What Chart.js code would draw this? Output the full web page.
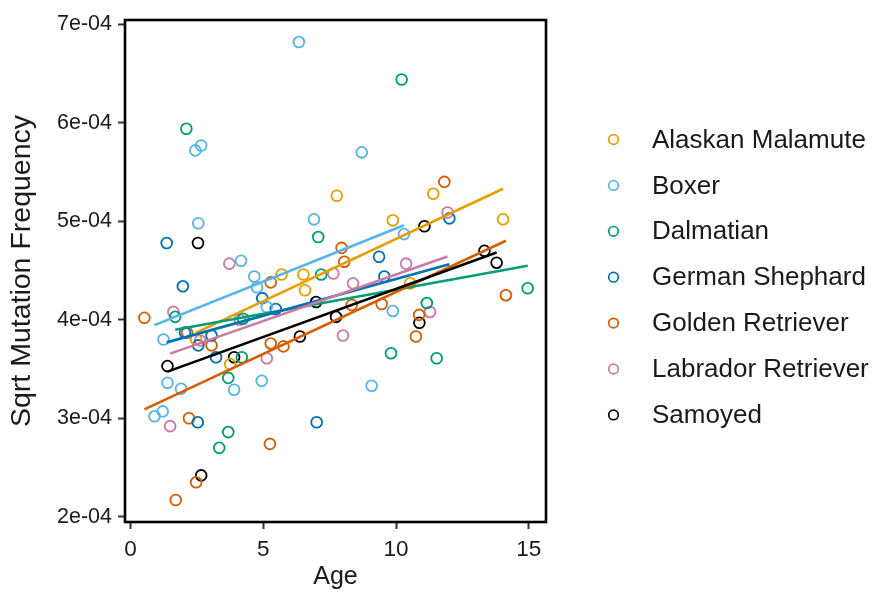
<!DOCTYPE html>
<html>
<head>
<meta charset="utf-8">
<script src="https://cdn.jsdelivr.net/npm/chart.js@4.4.1/dist/chart.umd.min.js"></script>
<style>
  html, body { margin: 0; padding: 0; background: #fff; }
  #ChartWrap { width: 878px; height: 592px; }
</style>
</head>
<body>
<div id="ChartWrap"><canvas id="MutationChart"></canvas></div>
<script>
const breeds = [
  "Alaskan Malamute",
  "Boxer",
  "Dalmatian",
  "German Shephard",
  "Golden Retriever",
  "Labrador Retriever",
  "Samoyed",
];
const breedColors = ["#E69F00", "#56B4E9", "#009E73", "#0072B2", "#D55E00", "#CC79A7", "#000000"];

// ages (years) and sqrt mutation frequency per breed
const malamuteAge = [7.77, 11.40, 9.88, 14.03, 5.69, 6.51, 6.57, 10.53, 2.47, 3.75];
const malamuteFreq = [5.26e-4, 5.28e-4, 5.01e-4, 5.02e-4, 4.46e-4, 4.46e-4, 4.30e-4, 4.37e-4, 3.80e-4, 3.55e-4];

const boxerAge = [6.34, 2.66, 2.44, 8.71, 2.55, 6.91, 10.30, 4.16, 4.66, 4.76, 5.13, 1.24, 9.88, 9.08, 1.39, 1.90, 3.90, 4.94, 0.90, 1.21];
const boxerFreq = [6.82e-4, 5.77e-4, 5.72e-4, 5.70e-4, 4.98e-4, 5.02e-4, 4.87e-4, 4.60e-4, 4.44e-4, 4.33e-4, 4.13e-4, 3.80e-4, 4.09e-4, 3.33e-4, 3.36e-4, 3.30e-4, 3.29e-4, 3.38e-4, 3.02e-4, 3.07e-4];

const dalmatianAge = [2.10, 10.21, 7.07, 7.18, 1.68, 4.24, 11.16, 14.96, 9.81, 11.53, 4.19, 3.68, 3.68, 3.34];
const dalmatianFreq = [5.94e-4, 6.44e-4, 4.84e-4, 4.46e-4, 4.03e-4, 4.01e-4, 4.17e-4, 4.32e-4, 3.66e-4, 3.61e-4, 3.62e-4, 3.41e-4, 2.86e-4, 2.70e-4];

const shepherdAge = [1.36, 1.97, 2.05, 2.55, 3.05, 3.22, 2.53, 4.96, 5.47, 9.36, 9.56, 12.01, 7.01];
const shepherdFreq = [4.78e-4, 4.34e-4, 3.87e-4, 3.74e-4, 3.84e-4, 3.62e-4, 2.96e-4, 4.22e-4, 4.11e-4, 4.64e-4, 4.44e-4, 5.03e-4, 2.96e-4];

const goldenAge = [0.52, 2.13, 3.05, 5.28, 5.28, 5.76, 7.95, 8.05, 8.33, 9.46, 10.87, 10.75, 11.82, 14.14, 2.20, 5.25, 2.47, 1.70];
const goldenFreq = [4.02e-4, 3.87e-4, 3.74e-4, 4.38e-4, 3.76e-4, 3.73e-4, 4.73e-4, 4.59e-4, 4.15e-4, 4.16e-4, 4.05e-4, 3.83e-4, 5.40e-4, 4.25e-4, 3.00e-4, 2.74e-4, 2.35e-4, 2.17e-4];

const labradorAge = [3.72, 1.61, 4.12, 5.13, 7.64, 8.38, 10.38, 11.94, 11.28, 8.00, 1.49, 2.62];
const labradorFreq = [4.57e-4, 4.08e-4, 4.00e-4, 3.61e-4, 4.47e-4, 4.37e-4, 4.57e-4, 5.09e-4, 4.08e-4, 3.84e-4, 2.92e-4, 3.79e-4];

const samoyedAge = [2.54, 1.39, 3.90, 2.66, 6.38, 6.99, 7.74, 10.88, 11.07, 13.33, 13.79];
const samoyedFreq = [4.78e-4, 3.53e-4, 3.62e-4, 2.42e-4, 3.83e-4, 4.18e-4, 4.03e-4, 3.97e-4, 4.95e-4, 4.70e-4, 4.58e-4];

const ageTicks = [0, 5, 10, 15];
const freqTicks = [2e-4, 3e-4, 4e-4, 5e-4, 6e-4, 7e-4];

const breedAges = [malamuteAge, boxerAge, dalmatianAge, shepherdAge, goldenAge, labradorAge, samoyedAge];
const breedFreqs = [malamuteFreq, boxerFreq, dalmatianFreq, shepherdFreq, goldenFreq, labradorFreq, samoyedFreq];

const fontFamily = "'Liberation Sans', Arial, sans-serif";
const textColor = "#1a1a1a";

function toPoints(ages, freqs) {
  return ages.map((age, index) => ({ x: age, y: freqs[index] }));
}

// least squares line across the breed's age range
function fitLine(ages, freqs) {
  const n = ages.length;
  const meanX = ages.reduce((sum, v) => sum + v, 0) / n;
  const meanY = freqs.reduce((sum, v) => sum + v, 0) / n;
  let sxy = 0;
  let sxx = 0;
  ages.forEach((age, index) => {
    sxy += (age - meanX) * (freqs[index] - meanY);
    sxx += (age - meanX) * (age - meanX);
  });
  const slope = sxy / sxx;
  const minX = Math.min(...ages);
  const maxX = Math.max(...ages);
  return [
    { x: minX, y: meanY + slope * (minX - meanX) },
    { x: maxX, y: meanY + slope * (maxX - meanX) },
  ];
}

const pointSets = breeds.map((breed, index) => ({
  label: breed,
  data: toPoints(breedAges[index], breedFreqs[index]),
  borderColor: breedColors[index],
  backgroundColor: "rgba(0,0,0,0)",
  pointRadius: 5.4,
  pointBorderWidth: 1.8,
  pointHoverRadius: 5.4,
  order: 2,
}));

const lineSets = breeds.map((breed, index) => ({
  label: breed + " fit",
  data: fitLine(breedAges[index], breedFreqs[index]),
  borderColor: breedColors[index],
  backgroundColor: breedColors[index],
  borderWidth: 2.6,
  showLine: true,
  pointRadius: 0,
  pointHoverRadius: 0,
  order: 1 - index / 10,
}));

const frameBox = {
  id: "frameBox",
  afterDraw(chart) {
    const { ctx, chartArea } = chart;
    ctx.save();
    ctx.strokeStyle = "#000";
    ctx.lineWidth = 2.6;
    ctx.strokeRect(chartArea.left, chartArea.top, chartArea.right - chartArea.left, chartArea.bottom - chartArea.top);
    ctx.restore();
  },
};

const sideLegend = {
  id: "sideLegend",
  afterDraw(chart) {
    const { ctx } = chart;
    ctx.save();
    ctx.font = "26px " + fontFamily;
    ctx.textBaseline = "middle";
    ctx.fillStyle = textColor;
    breeds.forEach((breed, index) => {
      const y = 139.5 + index * 45.9;
      ctx.beginPath();
      ctx.arc(613.5, y, 4.8, 0, Math.PI * 2);
      ctx.strokeStyle = breedColors[index];
      ctx.lineWidth = 1.7;
      ctx.stroke();
      ctx.fillText(breed, 652, y + 1);
    });
    ctx.restore();
  },
};

new Chart(document.querySelector("#MutationChart"), {
  type: "scatter",
  data: { datasets: [...lineSets, ...pointSets] },
  plugins: [frameBox, sideLegend],
  options: {
    responsive: true,
    maintainAspectRatio: false,
    animation: false,
    events: [],
    layout: { padding: { left: 0, top: 20, right: 332, bottom: 0 } },
    plugins: {
      legend: { display: false },
      tooltip: { enabled: false },
    },
    scales: {
      x: {
        type: "linear",
        min: -0.21,
        max: 15.65,
        afterBuildTicks: (scale) => {
          scale.ticks = ageTicks.map((value) => ({ value }));
        },
        afterFit: (scale) => {
          scale.height = 70;
        },
        border: { display: false },
        grid: { drawOnChartArea: false, drawTicks: true, tickLength: 7, tickWidth: 2, tickColor: "#333" },
        ticks: { color: textColor, font: { family: fontFamily, size: 22.5 }, padding: 7, maxRotation: 0 },
        title: { display: true, text: "Age", color: textColor, font: { family: fontFamily, size: 25 }, padding: { top: 0, bottom: 0 } },
      },
      y: {
        type: "linear",
        min: 1.947e-4,
        max: 7.044e-4,
        afterBuildTicks: (scale) => {
          scale.ticks = freqTicks.map((value) => ({ value }));
        },
        afterFit: (scale) => {
          scale.width = 125;
        },
        border: { display: false },
        grid: { drawOnChartArea: false, drawTicks: true, tickLength: 7, tickWidth: 2, tickColor: "#333" },
        ticks: {
          color: textColor,
          font: { family: fontFamily, size: 21.5 },
          padding: 6,
          callback: (value) => Math.round(value * 1e4) + "e-04",
        },
        title: { display: true, text: "Sqrt Mutation Frequency", color: textColor, font: { family: fontFamily, size: 28.5 }, padding: { top: 5, bottom: 0 } },
      },
    },
  },
});
</script>
</body>
</html>
